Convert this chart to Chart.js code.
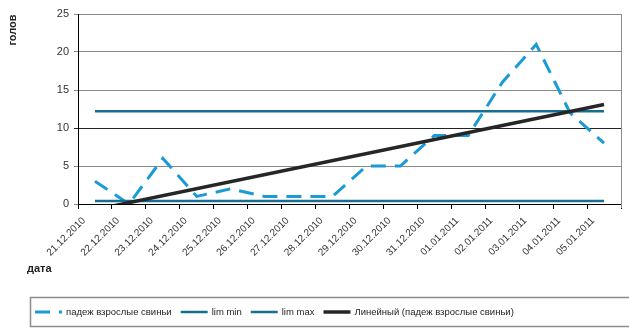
<!DOCTYPE html>
<html>
<head>
<meta charset="utf-8">
<script src="https://cdn.jsdelivr.net/npm/chart.js@4/dist/chart.umd.min.js"></script>
<style>
  html, body { margin: 0; padding: 0; background: #fff; }
  canvas { display: block; }
</style>
</head>
<body>
<canvas id="lossChart" width="629" height="329"></canvas>
<script>
// Падеж взрослых свиней по дням
const dates = [
  '21.12.2010', '22.12.2010', '23.12.2010', '24.12.2010', '25.12.2010', '26.12.2010',
  '27.12.2010', '28.12.2010', '29.12.2010', '30.12.2010', '31.12.2010',
  '01.01.2011', '02.01.2011', '03.01.2011', '04.01.2011', '05.01.2011'
];
const deaths = [3, 0, 6, 1, 2, 1, 1, 1, 5, 5, 9, 9, 16, 21, 12, 8];

// control limits
const limMin = 0.4;
const limMax = 12.2;

// linear trend, value at first and last date
const trendEnds = [-0.75, 13.1];

const yTicks = [0, 5, 10, 15, 20, 25];

const FONT = "'Liberation Sans', Arial, sans-serif";
const first = dates[0];
const last = dates[dates.length - 1];

// axis titles, rotated date labels, right border and boxed legend
const decorations = {
  id: 'decorations',
  afterDraw(chart) {
    const { ctx, chartArea } = chart;
    const xs = chart.scales.x;

    ctx.save();
    // right frame line
    ctx.strokeStyle = '#8c8c8c';
    ctx.lineWidth = 1;
    ctx.beginPath();
    ctx.moveTo(chartArea.right + 0.5, chartArea.top);
    ctx.lineTo(chartArea.right + 0.5, chartArea.bottom + 4);
    ctx.stroke();

    // date labels at 45 degrees
    ctx.fillStyle = '#333';
    ctx.font = '10px ' + FONT;
    ctx.textAlign = 'right';
    ctx.textBaseline = 'middle';
    dates.forEach((d, i) => {
      const x = xs.getPixelForValue(i);
      ctx.save();
      ctx.translate(x - 11, chartArea.bottom + 15);
      ctx.rotate(-Math.PI / 4);
      ctx.fillText(d, 0, 0);
      ctx.restore();
    });

    // axis titles
    ctx.fillStyle = '#222';
    ctx.font = 'bold 11px ' + FONT;
    ctx.textAlign = 'left';
    ctx.textBaseline = 'alphabetic';
    ctx.fillText('дата', 27, 272);
    ctx.save();
    ctx.translate(16, 30);
    ctx.rotate(-Math.PI / 2);
    ctx.textAlign = 'center';
    ctx.fillText('голов', 0, 0);
    ctx.restore();

    // legend box
    ctx.strokeStyle = '#8c8c8c';
    ctx.lineWidth = 1.5;
    ctx.strokeRect(30.5, 297.5, 610, 29);

    ctx.font = '9.5px ' + FONT;
    ctx.textBaseline = 'middle';
    let lx = 35;
    const ly = 312;
    chart.data.datasets.forEach(ds => {
      ctx.strokeStyle = ds.borderColor;
      ctx.lineWidth = ds.borderWidth;
      ctx.setLineDash(ds.borderDash || []);
      ctx.beginPath();
      ctx.moveTo(lx, ly);
      ctx.lineTo(lx + 27, ly);
      ctx.stroke();
      ctx.setLineDash([]);
      ctx.fillStyle = '#222';
      ctx.fillText(ds.label, lx + 31, ly);
      lx += 31 + ctx.measureText(ds.label).width + 9;
    });
    ctx.restore();
  }
};

new Chart(document.getElementById('lossChart'), {
  type: 'line',
  data: {
    labels: dates,
    datasets: [
      {
        label: 'падеж взрослые свиньи',
        data: deaths,
        borderColor: '#1b9ad8',
        borderWidth: 3,
        borderDash: [15, 9],
        pointRadius: 0,
        order: 3
      },
      {
        label: 'lim min',
        data: [{ x: first, y: limMin }, { x: last, y: limMin }],
        borderColor: '#186d91',
        borderWidth: 2.5,
        pointRadius: 0,
        order: 2
      },
      {
        label: 'lim max',
        data: [{ x: first, y: limMax }, { x: last, y: limMax }],
        borderColor: '#186d91',
        borderWidth: 2.5,
        pointRadius: 0,
        order: 1
      },
      {
        label: 'Линейный (падеж взрослые свиньи)',
        data: [{ x: first, y: trendEnds[0] }, { x: last, y: trendEnds[1] }],
        borderColor: '#262626',
        borderWidth: 3.5,
        pointRadius: 0,
        clip: 0,
        order: 0
      }
    ]
  },
  options: {
    responsive: false,
    devicePixelRatio: 1,
    animation: false,
    layout: { padding: { left: 0, right: 8, top: 14, bottom: 0 } },
    plugins: {
      legend: { display: false },
      tooltip: { enabled: false }
    },
    scales: {
      x: {
        offset: true,
        grid: {
          offset: true,
          drawOnChartArea: false,
          color: '#000',
          tickLength: 5
        },
        border: { color: '#000', width: 1 },
        ticks: { display: false },
        afterFit(scale) { scale.height = 125; }
      },
      y: {
        min: 0,
        max: 25,
        afterBuildTicks(scale) { scale.ticks = yTicks.map(v => ({ value: v })); },
        grid: {
          color: c => (c.tick && c.tick.value === 10 ? '#222' : '#8a8a8a'),
          tickLength: 4
        },
        border: { color: '#000', width: 1 },
        ticks: {
          color: '#333',
          padding: 5,
          font: { family: FONT, size: 11 }
        },
        afterFit(scale) { scale.width = 78; }
      }
    }
  },
  plugins: [decorations]
});
</script>
</body>
</html>
